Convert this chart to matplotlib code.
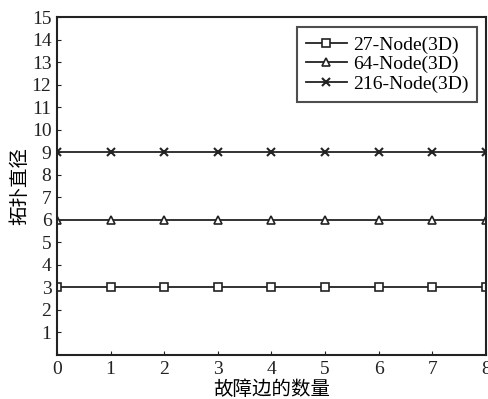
import matplotlib
matplotlib.use("Agg")
import matplotlib.pyplot as plt

x = [0, 1, 2, 3, 4, 5, 6, 7, 8]
n27 = [3, 3, 3, 3, 3, 3, 3, 3, 3]
n64 = [6, 6, 6, 6, 6, 6, 6, 6, 6]
n216 = [9, 9, 9, 9, 9, 9, 9, 9, 9]
labels = ["27-Node(3D)", "64-Node(3D)", "216-Node(3D)"]
xlabel = "故障边的数量"
ylabel = "拓扑直径"

plt.rcParams['font.family'] = ['Liberation Serif', 'Noto Sans CJK SC']
fig = plt.figure(figsize=(4.89, 3.99), dpi=100)
ax = fig.add_axes([57/489, 1-355/399, (486-57)/489, (355-17)/399])

ax.plot(x, n27, color='#222222', lw=1.3, marker='s', ms=6, mfc='white', mec='#222222', mew=1.2, label=labels[0])
ax.plot(x, n64, color='#222222', lw=1.3, marker='^', ms=6, mfc='white', mec='#222222', mew=1.2, label=labels[1])
ax.plot(x, n216, color='#222222', lw=1.3, marker='x', ms=6, mec='#222222', mew=1.5, label=labels[2])

ax.set_xlim(0, 8)
ax.set_ylim(0, 15)
ax.set_xticks(x)
ax.set_yticks(range(1, 16))
ax.tick_params(direction='in', length=3, labelsize=14, colors='#222222', pad=4)
for s in ax.spines.values():
    s.set_linewidth(1.5)
    s.set_color('#222222')

ax.set_xlabel(xlabel, fontsize=14, family=['Noto Sans CJK SC'], labelpad=1)
ax.set_ylabel(ylabel, fontsize=14, family=['Noto Sans CJK SC'], labelpad=1)

leg = ax.legend(loc='upper right', fontsize=14, frameon=True, fancybox=False,
                edgecolor='#222222', handlelength=2.1, borderpad=0.45, labelspacing=0.1,
                handletextpad=0.3, borderaxespad=0, bbox_to_anchor=(0.979, 0.970))
leg.get_frame().set_linewidth(1.5)

fig.savefig("out.png", dpi=100)
